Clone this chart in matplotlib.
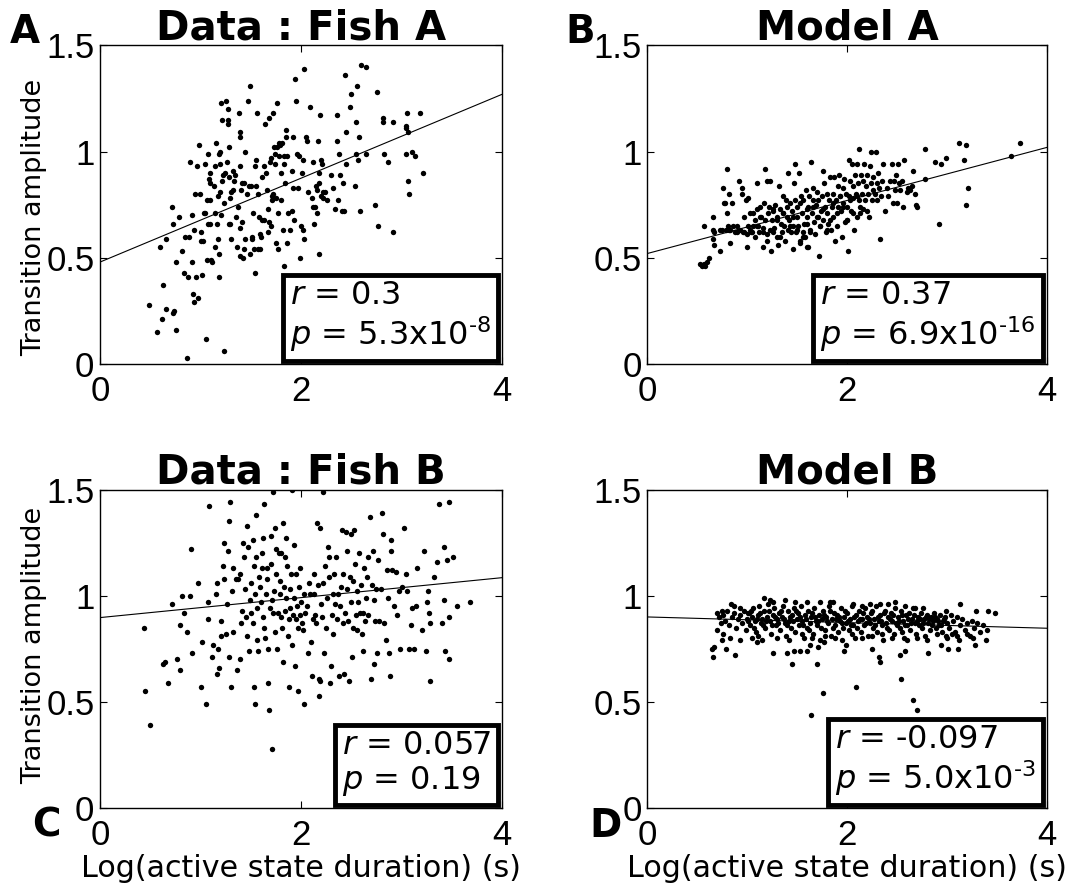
import numpy as np
import matplotlib.pyplot as plt

plt.rcParams['font.family'] = ['DejaVu Sans']
plt.rcParams['mathtext.fontset'] = 'dejavusans'

# (log duration, transition amplitude)
fish_a = [
    (0.49, 0.28), (0.57, 0.15), (0.60, 0.55), (0.62, 0.21), (0.63, 0.37), (0.66, 0.59), (0.66, 0.26),
    (0.72, 0.74), (0.73, 0.66), (0.73, 0.24), (0.74, 0.25), (0.76, 0.48), (0.76, 0.16), (0.79, 0.69),
    (0.82, 0.53), (0.83, 0.43), (0.84, 0.60), (0.86, 0.03), (0.87, 0.41), (0.88, 0.60), (0.89, 0.95),
    (0.91, 0.48), (0.91, 0.70), (0.92, 0.33), (0.93, 0.29), (0.93, 0.63), (0.94, 0.80), (0.95, 0.41),
    (0.96, 0.93), (0.97, 0.31), (0.98, 1.03), (0.99, 0.80), (1.00, 0.58), (1.00, 0.62), (1.01, 0.42),
    (1.02, 0.58), (1.03, 0.71), (1.04, 0.94), (1.04, 0.71), (1.05, 0.12), (1.06, 0.77), (1.06, 0.49),
    (1.07, 0.66), (1.07, 0.99), (1.08, 0.87), (1.09, 0.90), (1.09, 0.85), (1.09, 0.77), (1.09, 0.66),
    (1.10, 0.49), (1.11, 0.48), (1.13, 0.84), (1.14, 0.71), (1.14, 0.93), (1.14, 0.55), (1.15, 1.04),
    (1.16, 0.66), (1.17, 0.79), (1.17, 0.59), (1.18, 0.41), (1.18, 0.52), (1.18, 0.99), (1.19, 1.00),
    (1.19, 0.94), (1.19, 0.81), (1.20, 0.70), (1.20, 1.23), (1.21, 0.86), (1.21, 1.15), (1.22, 0.89),
    (1.23, 0.76), (1.23, 0.06), (1.24, 0.90), (1.25, 1.24), (1.26, 0.95), (1.27, 1.20), (1.27, 1.15),
    (1.27, 1.13), (1.28, 0.66), (1.28, 1.02), (1.28, 0.88), (1.29, 0.78), (1.29, 0.66), (1.30, 0.59),
    (1.30, 0.81), (1.32, 0.82), (1.32, 0.91), (1.33, 0.86), (1.34, 0.89), (1.35, 0.69), (1.36, 0.55),
    (1.37, 0.74), (1.38, 1.18), (1.39, 0.64), (1.39, 0.93), (1.39, 1.09), (1.39, 1.07), (1.39, 0.51),
    (1.40, 0.82), (1.41, 0.67), (1.41, 0.85), (1.42, 0.50), (1.43, 0.54), (1.43, 0.85), (1.44, 1.00),
    (1.44, 0.59), (1.46, 0.80), (1.47, 1.24), (1.48, 0.84), (1.49, 1.31), (1.49, 0.52), (1.50, 0.84),
    (1.51, 0.60), (1.51, 0.59), (1.52, 0.71), (1.53, 0.54), (1.54, 0.43), (1.54, 0.93), (1.55, 0.84),
    (1.55, 0.96), (1.56, 1.18), (1.57, 0.80), (1.57, 0.54), (1.58, 0.69), (1.59, 0.54), (1.59, 0.61),
    (1.60, 0.60), (1.61, 0.88), (1.61, 0.68), (1.63, 0.93), (1.63, 0.68), (1.64, 1.13), (1.65, 0.90),
    (1.66, 0.82), (1.67, 0.73), (1.67, 0.62), (1.68, 0.67), (1.68, 1.16), (1.69, 0.95), (1.70, 0.65),
    (1.70, 0.97), (1.71, 0.79), (1.71, 0.77), (1.72, 1.18), (1.72, 0.80), (1.73, 1.02), (1.74, 0.94),
    (1.74, 0.99), (1.75, 0.57), (1.75, 0.78), (1.76, 1.02), (1.76, 1.23), (1.77, 0.71), (1.77, 0.54),
    (1.78, 1.04), (1.78, 0.98), (1.79, 1.03), (1.80, 0.77), (1.80, 0.90), (1.81, 1.04), (1.82, 0.63),
    (1.83, 0.46), (1.83, 0.94), (1.83, 0.98), (1.84, 0.85), (1.85, 1.10), (1.85, 1.07), (1.86, 0.98),
    (1.86, 0.57), (1.87, 0.71), (1.89, 0.63), (1.91, 0.72), (1.91, 0.91), (1.92, 1.07), (1.92, 0.83),
    (1.93, 0.68), (1.94, 1.34), (1.95, 1.24), (1.96, 0.99), (1.97, 0.83), (1.98, 0.98), (1.99, 0.50),
    (2.00, 0.65), (2.01, 0.90), (2.02, 0.63), (2.02, 0.96), (2.03, 1.39), (2.03, 0.59), (2.05, 1.07),
    (2.06, 1.05), (2.07, 0.81), (2.09, 1.21), (2.11, 0.78), (2.12, 0.95), (2.12, 0.74), (2.13, 0.66),
    (2.14, 0.74), (2.15, 0.84), (2.16, 0.82), (2.16, 0.71), (2.17, 1.05), (2.18, 0.90), (2.18, 0.85),
    (2.18, 0.52), (2.19, 1.17), (2.20, 0.96), (2.20, 0.79), (2.21, 0.94), (2.22, 0.81), (2.22, 0.78),
    (2.24, 0.81), (2.26, 0.77), (2.30, 0.89), (2.32, 0.83), (2.34, 0.73), (2.36, 1.17), (2.36, 1.05),
    (2.37, 0.77), (2.38, 0.99), (2.39, 0.89), (2.41, 0.72), (2.42, 0.85), (2.43, 0.72), (2.44, 1.36),
    (2.45, 0.94), (2.45, 1.09), (2.49, 1.21), (2.50, 1.27), (2.54, 0.84), (2.55, 0.99), (2.55, 1.14),
    (2.56, 1.31), (2.57, 0.96), (2.58, 1.07), (2.59, 0.72), (2.60, 1.41), (2.65, 0.99), (2.65, 1.40),
    (2.73, 0.75), (2.75, 1.28), (2.76, 0.65), (2.81, 1.16), (2.81, 1.14), (2.82, 0.99), (2.86, 0.95),
    (2.91, 1.14), (2.91, 0.62), (3.04, 1.12), (3.04, 1.11), (3.05, 1.18), (3.06, 1.09), (3.04, 0.99),
    (3.06, 0.86), (3.07, 0.80), (3.10, 1.00), (3.13, 0.98), (3.18, 1.18), (3.21, 0.90),
]

model_a = [
    (0.53, 0.47), (0.55, 0.46), (0.57, 0.47), (0.58, 0.46), (0.60, 0.48), (0.62, 0.50), (0.57, 0.65),
    (0.66, 0.69), (0.66, 0.63), (0.67, 0.62), (0.66, 0.59), (0.67, 0.56), (0.73, 0.53), (0.73, 0.63),
    (0.75, 0.63), (0.76, 0.83), (0.77, 0.76), (0.78, 0.76), (0.79, 0.63), (0.80, 0.92), (0.80, 0.71),
    (0.81, 0.65), (0.82, 0.63), (0.82, 0.80), (0.83, 0.57), (0.85, 0.76), (0.86, 0.65), (0.88, 0.62),
    (0.90, 0.62), (0.92, 0.86), (0.93, 0.63), (0.95, 0.83), (0.95, 0.80), (0.97, 0.62), (0.97, 0.69),
    (0.99, 0.77), (1.00, 0.61), (1.00, 0.55), (1.01, 0.65), (1.01, 0.78), (1.03, 0.71), (1.04, 0.62),
    (1.05, 0.62), (1.06, 0.65), (1.08, 0.68), (1.08, 0.60), (1.10, 0.85), (1.10, 0.73), (1.11, 0.65),
    (1.12, 0.62), (1.13, 0.74), (1.14, 0.69), (1.16, 0.55), (1.16, 0.64), (1.17, 0.76), (1.18, 0.92),
    (1.18, 0.68), (1.20, 0.86), (1.20, 0.61), (1.21, 0.71), (1.22, 0.74), (1.23, 0.86), (1.24, 0.53),
    (1.25, 0.68), (1.26, 0.62), (1.26, 0.72), (1.27, 0.64), (1.28, 0.75), (1.30, 0.60), (1.30, 0.69),
    (1.31, 0.56), (1.32, 0.84), (1.33, 0.73), (1.34, 0.66), (1.35, 0.62), (1.36, 0.71), (1.36, 0.79),
    (1.37, 0.65), (1.38, 0.58), (1.39, 0.77), (1.40, 0.69), (1.41, 0.90), (1.41, 0.63), (1.42, 0.68),
    (1.43, 0.76), (1.44, 0.62), (1.45, 0.72), (1.46, 0.65), (1.46, 0.54), (1.47, 0.85), (1.48, 0.77),
    (1.48, 0.94), (1.49, 0.62), (1.50, 0.69), (1.50, 0.74), (1.51, 0.65), (1.52, 0.90), (1.53, 0.58),
    (1.54, 0.79), (1.55, 0.71), (1.56, 0.62), (1.56, 0.77), (1.57, 0.66), (1.58, 0.60), (1.59, 0.82),
    (1.60, 0.69), (1.61, 0.55), (1.61, 0.74), (1.62, 0.79), (1.63, 0.63), (1.64, 0.95), (1.65, 0.71),
    (1.66, 0.77), (1.66, 0.83), (1.67, 0.67), (1.68, 0.61), (1.69, 0.75), (1.70, 0.81), (1.71, 0.69),
    (1.71, 0.77), (1.72, 0.51), (1.73, 0.65), (1.74, 0.72), (1.75, 0.79), (1.76, 0.91), (1.76, 0.68),
    (1.77, 0.85), (1.78, 0.74), (1.79, 0.62), (1.80, 0.80), (1.80, 0.71), (1.81, 0.66), (1.82, 0.77),
    (1.83, 0.88), (1.84, 0.63), (1.85, 0.74), (1.86, 0.80), (1.86, 0.69), (1.87, 0.88), (1.88, 0.58),
    (1.89, 0.77), (1.90, 0.65), (1.91, 0.84), (1.91, 0.74), (1.92, 0.89), (1.93, 0.79), (1.94, 0.72),
    (1.95, 0.60), (1.96, 0.83), (1.96, 0.76), (1.97, 0.87), (1.98, 0.67), (1.99, 0.80), (2.00, 0.74),
    (2.00, 0.68), (2.01, 0.53), (2.02, 0.96), (2.02, 0.79), (2.03, 0.86), (2.04, 0.72), (2.05, 0.94),
    (2.06, 0.84), (2.06, 0.78), (2.07, 0.63), (2.08, 0.89), (2.09, 0.80), (2.10, 0.69), (2.10, 0.94),
    (2.11, 0.85), (2.12, 1.01), (2.12, 0.77), (2.13, 0.71), (2.14, 0.89), (2.15, 0.80), (2.16, 0.73),
    (2.16, 0.86), (2.17, 0.94), (2.18, 0.77), (2.19, 0.84), (2.20, 0.89), (2.20, 0.72), (2.21, 0.80),
    (2.22, 0.69), (2.23, 0.93), (2.24, 1.00), (2.24, 0.85), (2.25, 0.77), (2.26, 0.82), (2.26, 0.88),
    (2.28, 0.80), (2.29, 1.00), (2.30, 0.77), (2.30, 0.85), (2.31, 0.90), (2.32, 0.83), (2.33, 0.59),
    (2.34, 0.79), (2.35, 0.86), (2.36, 0.94), (2.38, 0.72), (2.40, 0.83), (2.41, 0.79), (2.43, 0.86),
    (2.45, 0.94), (2.46, 0.76), (2.47, 0.86), (2.48, 0.82), (2.49, 0.89), (2.50, 0.76), (2.51, 0.94),
    (2.52, 0.85), (2.53, 0.82), (2.55, 0.86), (2.56, 0.74), (2.57, 0.96), (2.60, 0.81), (2.61, 0.83),
    (2.63, 0.82), (2.65, 0.84), (2.66, 0.91), (2.68, 0.80), (2.69, 0.75), (2.70, 0.74), (2.78, 0.87),
    (2.78, 1.01), (2.88, 0.95), (2.92, 0.66), (2.94, 0.94), (2.99, 0.97), (3.12, 1.04), (3.17, 0.96),
    (3.19, 1.03), (3.19, 0.75), (3.21, 0.83), (3.64, 0.98), (3.73, 1.04),
    (1.43, 0.65), (1.50, 0.63), (1.56, 0.60), (1.60, 0.66), (1.63, 0.62), (1.70, 0.69), (1.76, 0.73),
    (1.83, 0.68), (1.90, 0.71), (1.96, 0.74), (2.03, 0.77), (2.10, 0.79), (1.36, 0.71), (1.30, 0.68),
    (1.23, 0.63), (1.16, 0.62), (1.10, 0.65), (1.03, 0.63), (0.96, 0.62), (0.90, 0.65), (0.83, 0.63),
    (1.20, 0.58), (1.53, 0.57), (1.60, 0.55), (1.33, 0.60), (1.46, 0.69), (1.66, 0.74), (1.73, 0.65),
    (1.80, 0.63), (1.86, 0.76), (1.93, 0.79), (2.00, 0.68), (2.06, 0.71), (2.13, 0.74), (1.26, 0.73),
    (1.40, 0.74), (1.53, 0.76), (1.60, 0.73), (1.13, 0.69), (1.06, 0.71),
]

fish_b = [
    (0.44, 0.85), (0.45, 0.55), (0.50, 0.39), (0.63, 0.68), (0.65, 0.69), (0.68, 0.59), (0.72, 0.96),
    (0.77, 0.70), (0.80, 0.65), (0.80, 0.86), (0.82, 1.00), (0.83, 0.92), (0.86, 0.83), (0.89, 1.00),
    (0.90, 1.22), (0.91, 0.73), (0.97, 1.06), (1.00, 0.57), (1.01, 0.78), (1.05, 0.49), (1.07, 0.97),
    (1.07, 0.89), (1.08, 1.42), (1.11, 0.71), (1.12, 0.77), (1.15, 1.01), (1.16, 1.06), (1.16, 0.63),
    (1.17, 0.75), (1.18, 0.66), (1.20, 0.81), (1.20, 0.88), (1.22, 1.14), (1.23, 1.25), (1.23, 1.08),
    (1.25, 0.82), (1.26, 0.96), (1.27, 1.21), (1.28, 1.35), (1.28, 0.71), (1.29, 1.44), (1.30, 0.57),
    (1.31, 1.02), (1.32, 1.13), (1.32, 0.83), (1.35, 1.08), (1.36, 0.65), (1.37, 1.08), (1.39, 1.10),
    (1.39, 0.70), (1.40, 0.87), (1.41, 0.93), (1.42, 1.25), (1.43, 1.18), (1.44, 1.03), (1.45, 0.90),
    (1.46, 1.33), (1.46, 0.81), (1.47, 1.23), (1.48, 0.74), (1.49, 0.98), (1.50, 0.92), (1.50, 1.06),
    (1.52, 0.87), (1.52, 1.26), (1.53, 1.14), (1.53, 0.57), (1.54, 1.01), (1.54, 0.49), (1.55, 1.18),
    (1.55, 1.38), (1.56, 0.79), (1.56, 0.94), (1.57, 0.74), (1.58, 1.09), (1.59, 1.04), (1.60, 0.97),
    (1.61, 1.20), (1.61, 1.13), (1.62, 0.90), (1.62, 1.27), (1.63, 1.43), (1.63, 0.85), (1.64, 0.80),
    (1.65, 1.01), (1.66, 1.13), (1.66, 1.08), (1.67, 0.75), (1.67, 0.59), (1.68, 0.46), (1.69, 0.94),
    (1.70, 1.15), (1.70, 1.28), (1.71, 0.28), (1.71, 0.98), (1.72, 1.49), (1.72, 0.92), (1.73, 1.02),
    (1.74, 1.32), (1.74, 0.83), (1.75, 1.22), (1.75, 1.10), (1.76, 0.75), (1.77, 0.92), (1.78, 1.20),
    (1.79, 1.07), (1.79, 1.01), (1.80, 0.90), (1.80, 1.20), (1.81, 0.85), (1.82, 1.34), (1.82, 0.69),
    (1.83, 1.04), (1.84, 1.18), (1.84, 0.93), (1.85, 1.27), (1.85, 0.99), (1.86, 1.14), (1.87, 0.81),
    (1.88, 0.57), (1.88, 0.89), (1.89, 1.03), (1.89, 0.94), (1.90, 1.10), (1.91, 0.77), (1.91, 1.50),
    (1.92, 0.91), (1.93, 0.99), (1.93, 1.24), (1.94, 0.67), (1.95, 0.89), (1.95, 1.10), (1.96, 0.95),
    (1.97, 0.55), (1.97, 0.85), (1.98, 1.04), (1.99, 0.91), (1.99, 1.13), (2.00, 0.97), (2.01, 0.87),
    (2.02, 0.84), (2.03, 0.49), (2.03, 1.01), (2.04, 0.92), (2.06, 0.95), (2.07, 0.73), (2.08, 1.06),
    (2.09, 1.01), (2.10, 0.78), (2.11, 0.62), (2.12, 0.89), (2.13, 1.01), (2.13, 1.10), (2.14, 0.91),
    (2.15, 0.87), (2.16, 1.34), (2.17, 1.05), (2.18, 0.61), (2.18, 0.53), (2.19, 0.60), (2.19, 1.32),
    (2.20, 0.96), (2.21, 0.90), (2.22, 1.06), (2.22, 1.49), (2.23, 0.73), (2.24, 1.14), (2.25, 0.85),
    (2.26, 0.99), (2.27, 1.23), (2.28, 1.18), (2.28, 1.09), (2.29, 0.59), (2.30, 0.67), (2.31, 0.91),
    (2.32, 1.01), (2.32, 0.82), (2.33, 1.10), (2.34, 0.96), (2.35, 1.18), (2.36, 0.89), (2.37, 1.01),
    (2.38, 0.62), (2.39, 0.95), (2.40, 1.04), (2.41, 1.31), (2.42, 0.87), (2.42, 1.10), (2.43, 0.63),
    (2.44, 0.92), (2.45, 1.30), (2.46, 1.03), (2.46, 1.21), (2.47, 0.88), (2.48, 0.60), (2.49, 1.09),
    (2.50, 0.97), (2.50, 1.29), (2.51, 0.71), (2.52, 0.85), (2.52, 1.07), (2.53, 1.31), (2.54, 1.15),
    (2.55, 0.91), (2.56, 1.02), (2.56, 0.84), (2.57, 0.97), (2.58, 1.20), (2.59, 0.92), (2.60, 1.05),
    (2.61, 0.82), (2.62, 0.92), (2.62, 0.74), (2.63, 1.13), (2.64, 0.88), (2.65, 0.99), (2.66, 1.09),
    (2.67, 0.91), (2.67, 1.18), (2.68, 1.37), (2.69, 0.61), (2.70, 1.05), (2.71, 1.21), (2.72, 0.98),
    (2.72, 0.68), (2.73, 0.88), (2.74, 1.03), (2.75, 0.73), (2.76, 1.17), (2.77, 0.88), (2.79, 1.03),
    (2.80, 1.39), (2.81, 1.29), (2.82, 0.87), (2.84, 0.79), (2.85, 1.12), (2.86, 0.99), (2.87, 0.73),
    (2.88, 0.62), (2.89, 1.26), (2.89, 1.21), (2.90, 1.12), (2.92, 0.95), (2.94, 1.11), (2.95, 0.91),
    (2.97, 1.02), (2.98, 0.75), (3.00, 1.04), (3.02, 1.32), (3.04, 1.10), (3.05, 1.02), (3.07, 0.75),
    (3.09, 0.86), (3.10, 0.94), (3.12, 0.75), (3.14, 0.95), (3.15, 1.13), (3.20, 0.84), (3.22, 1.21),
    (3.24, 0.74), (3.25, 0.97), (3.26, 1.02), (3.27, 0.92), (3.28, 0.60), (3.28, 0.87), (3.32, 1.09),
    (3.35, 1.16), (3.37, 1.43), (3.40, 0.87), (3.42, 1.23), (3.42, 0.98), (3.43, 0.74), (3.45, 1.17),
    (3.47, 0.90), (3.47, 0.70), (3.47, 1.44), (3.51, 1.18), (3.55, 0.95), (3.68, 0.97),
]

model_b = [
    (1.64, 0.44), (1.76, 0.54), (2.09, 0.57), (2.54, 0.61), (2.66, 0.51), (2.70, 0.46),
    (0.66, 0.71), (0.65, 0.75), (0.67, 0.76), (0.70, 0.84), (0.75, 0.79), (0.76, 0.82), (0.79, 0.75),
    (0.83, 0.80), (0.88, 0.72), (0.93, 0.79), (1.10, 0.78), (1.11, 0.81), (1.26, 0.73), (1.40, 0.73),
    (1.45, 0.68), (1.47, 0.74), (1.53, 0.74), (1.60, 0.74), (1.70, 0.68), (1.63, 0.77), (1.71, 0.76),
    (1.77, 0.78), (1.97, 0.74), (1.99, 0.77), (2.25, 0.75), (2.32, 0.71), (2.33, 0.69), (2.53, 0.72),
    (2.58, 0.74), (2.81, 0.73), (2.94, 0.77), (3.01, 0.75), (3.11, 0.75), (3.28, 0.77), (3.39, 0.79),
    (3.10, 0.81), (3.26, 0.80), (2.99, 0.81),
    (0.70, 0.92), (0.75, 0.93), (0.84, 0.96), (0.87, 0.95), (0.93, 0.94), (1.01, 0.92), (1.17, 0.99),
    (1.23, 0.98), (1.26, 0.97), (1.38, 0.98), (1.48, 0.97), (1.60, 0.97), (1.73, 0.97), (1.83, 0.97),
    (1.86, 0.97), (2.06, 0.96), (2.15, 0.95), (2.23, 0.96), (2.33, 0.96), (2.41, 0.96), (2.48, 0.97),
    (2.58, 0.95), (2.68, 0.94), (2.76, 0.94), (2.99, 0.93), (3.13, 0.96), (3.29, 0.93), (3.41, 0.93),
    (3.48, 0.92),
    (0.72, 0.90), (0.74, 0.87), (0.76, 0.91), (0.78, 0.88), (0.80, 0.93), (0.82, 0.86), (0.85, 0.90),
    (0.87, 0.92), (0.89, 0.85), (0.91, 0.89), (0.93, 0.91), (0.95, 0.87), (0.97, 0.93), (0.99, 0.84),
    (1.00, 0.89), (1.02, 0.92), (1.03, 0.86), (1.05, 0.90), (1.06, 0.94), (1.08, 0.88), (1.09, 0.83),
    (1.11, 0.91), (1.12, 0.95), (1.14, 0.87), (1.15, 0.89), (1.17, 0.93), (1.18, 0.85), (1.20, 0.90),
    (1.21, 0.96), (1.23, 0.88), (1.24, 0.82), (1.26, 0.91), (1.27, 0.94), (1.29, 0.86), (1.30, 0.89),
    (1.32, 0.92), (1.33, 0.84), (1.35, 0.90), (1.36, 0.95), (1.38, 0.87), (1.39, 0.81), (1.41, 0.93),
    (1.42, 0.88), (1.44, 0.85), (1.45, 0.91), (1.47, 0.94), (1.48, 0.83), (1.50, 0.89), (1.51, 0.92),
    (1.52, 0.86), (1.54, 0.95), (1.55, 0.88), (1.57, 0.80), (1.58, 0.91), (1.60, 0.85), (1.61, 0.93),
    (1.63, 0.87), (1.64, 0.90), (1.66, 0.82), (1.67, 0.94), (1.69, 0.88), (1.70, 0.86), (1.72, 0.91),
    (1.73, 0.79), (1.75, 0.89), (1.76, 0.93), (1.78, 0.84), (1.79, 0.90), (1.81, 0.87), (1.82, 0.95),
    (1.84, 0.81), (1.85, 0.89), (1.87, 0.92), (1.88, 0.86), (1.90, 0.91), (1.91, 0.83), (1.93, 0.88),
    (1.94, 0.94), (1.96, 0.85), (1.97, 0.90), (1.99, 0.87), (2.00, 0.92), (2.02, 0.84), (2.03, 0.89),
    (2.05, 0.95), (2.06, 0.86), (2.08, 0.80), (2.09, 0.91), (2.11, 0.88), (2.12, 0.93), (2.14, 0.83),
    (2.15, 0.89), (2.17, 0.86), (2.18, 0.94), (2.20, 0.90), (2.21, 0.81), (2.23, 0.87), (2.24, 0.92),
    (2.26, 0.85), (2.27, 0.89), (2.29, 0.95), (2.30, 0.83), (2.32, 0.88), (2.33, 0.91), (2.35, 0.86),
    (2.36, 0.79), (2.38, 0.93), (2.39, 0.87), (2.41, 0.90), (2.42, 0.84), (2.44, 0.92), (2.45, 0.88),
    (2.47, 0.82), (2.48, 0.94), (2.50, 0.86), (2.51, 0.90), (2.53, 0.85), (2.54, 0.93), (2.56, 0.88),
    (2.57, 0.80), (2.59, 0.91), (2.60, 0.86), (2.62, 0.92), (2.63, 0.84), (2.65, 0.89), (2.66, 0.94),
    (2.68, 0.87), (2.69, 0.82), (2.71, 0.90), (2.72, 0.86), (2.74, 0.92), (2.75, 0.85), (2.77, 0.89),
    (2.78, 0.81), (2.80, 0.91), (2.81, 0.87), (2.83, 0.84), (2.84, 0.90), (2.86, 0.88), (2.87, 0.92),
    (2.89, 0.85), (2.90, 0.89), (2.92, 0.86), (2.93, 0.91), (2.95, 0.83), (2.96, 0.88), (2.98, 0.90),
    (3.00, 0.87), (3.02, 0.85), (3.04, 0.91), (3.06, 0.88), (3.08, 0.83), (3.10, 0.90), (3.13, 0.86),
    (3.15, 0.89), (3.18, 0.84), (3.20, 0.87), (3.23, 0.81), (3.25, 0.88), (3.27, 0.85), (3.30, 0.87),
    (3.33, 0.83), (3.36, 0.86), (3.40, 0.84),
    (1.01, 0.88), (1.04, 0.93), (1.07, 0.85), (1.10, 0.89), (1.13, 0.92), (1.16, 0.86), (1.19, 0.88),
    (1.22, 0.93), (1.25, 0.86), (1.28, 0.90), (1.31, 0.87), (1.34, 0.93), (1.37, 0.89), (1.40, 0.86),
    (1.43, 0.90), (1.46, 0.88), (1.49, 0.93), (1.53, 0.90), (1.56, 0.86), (1.59, 0.89), (1.62, 0.84),
    (1.65, 0.92), (1.68, 0.90), (1.71, 0.88), (1.74, 0.85), (1.77, 0.91), (1.80, 0.88), (1.83, 0.93),
    (1.86, 0.85), (1.89, 0.89), (1.92, 0.90), (1.95, 0.87), (1.98, 0.93), (2.01, 0.88), (2.04, 0.86),
    (2.07, 0.90), (2.10, 0.85), (2.13, 0.89), (2.16, 0.92), (2.19, 0.87), (2.22, 0.89), (2.25, 0.93),
    (2.28, 0.86), (2.31, 0.90), (2.34, 0.88), (2.37, 0.92), (2.40, 0.85), (2.43, 0.89), (2.46, 0.91),
    (2.49, 0.87), (2.52, 0.88), (2.55, 0.91), (2.58, 0.86), (2.61, 0.89), (2.64, 0.87), (2.67, 0.91),
    (2.70, 0.88), (2.73, 0.89), (2.76, 0.87), (2.79, 0.90), (2.82, 0.89), (2.85, 0.86), (2.88, 0.90),
    (2.91, 0.88), (2.94, 0.86), (2.97, 0.89),
    (1.05, 0.80), (1.15, 0.79), (1.30, 0.80), (1.42, 0.79), (1.55, 0.82), (1.65, 0.80), (1.78, 0.81),
    (1.88, 0.80), (1.95, 0.79), (2.05, 0.82), (2.15, 0.80), (2.25, 0.81), (2.35, 0.82), (2.45, 0.80),
    (2.55, 0.83), (2.60, 0.79), (2.70, 0.80), (2.80, 0.79), (2.90, 0.82), (3.00, 0.80), (3.05, 0.82),
    (3.12, 0.79), (3.20, 0.82),
]

panels = [fish_a, model_a, fish_b, model_b]
titles = ['Data : Fish A', 'Model A', 'Data : Fish B', 'Model B']
letters = ['A', 'B', 'C', 'D']
# regression line: (intercept, slope)
fits = [(0.48, 0.1975), (0.52, 0.125), (0.897, 0.047), (0.90, -0.0133)]
r_text = ['0.3', '0.37', '0.057', '-0.097']
p_text = ['5.3x10$^{\\mathregular{\u20108}}$', '6.9x10$^{\\mathregular{\u201016}}$', '0.19',
          '5.0x10$^{\\mathregular{\u20103}}$']

fig = plt.figure(figsize=(10.84, 8.9), dpi=100)
positions = [
    [0.0923, 0.591, 0.371, 0.358],
    [0.597, 0.591, 0.369, 0.358],
    [0.0923, 0.092, 0.371, 0.358],
    [0.597, 0.092, 0.369, 0.358],
]
ylabel_y = {0: 0.46, 2: 0.51}

for i in range(4):
    ax = fig.add_axes(positions[i])
    pts = np.array(panels[i])
    ax.scatter(pts[:, 0], pts[:, 1], s=15, color='black', linewidths=0, zorder=3)

    xl = np.array([0, 4])
    b0, b1 = fits[i]
    ax.plot(xl, b0 + b1 * xl, color='black', lw=0.8, zorder=2)

    ax.set_xlim(0, 4)
    ax.set_ylim(0, 1.5)
    ax.set_xticks([0, 2, 4])
    ax.set_xticklabels(['0', '2', '4'])
    ax.set_yticks([0, 0.5, 1, 1.5])
    ax.set_yticklabels(['0', '0.5', '1', '1.5'])
    ax.tick_params(direction='in', length=5, width=0.8, top=True, right=True,
                   labelsize=25, labelfontfamily='Liberation Sans')
    ax.tick_params(axis='x', pad=8)
    ax.tick_params(axis='y', pad=4)
    for sp in ax.spines.values():
        sp.set_linewidth(1.0)

    ax.set_title(titles[i], fontsize=29, fontweight='bold', pad=4)
    if i % 2 == 0:
        ax.set_ylabel('Transition amplitude', fontsize=19.5)
        ax.yaxis.set_label_coords(-0.132, ylabel_y[i])
    if i >= 2:
        ax.set_xlabel('Log(active state duration) (s)', fontsize=21.7, labelpad=1)

    txt = '$r$ = ' + r_text[i] + '\n' + '$p$ = ' + p_text[i]
    ax.text(0.972, 0.032, txt, transform=ax.transAxes, ha='right', va='bottom',
            multialignment='left', fontsize=23, linespacing=1.1, zorder=5,
            bbox=dict(boxstyle='square,pad=0.22', fc='white', ec='black', lw=3.5))

letter_pos = [(0.009, 0.952), (0.522, 0.952), (0.030, 0.060), (0.544, 0.060)]
for i in range(4):
    fig.text(letter_pos[i][0], letter_pos[i][1], letters[i], fontsize=28,
             fontweight='bold', ha='left', va='baseline')

fig.savefig('out.png', dpi=100)
